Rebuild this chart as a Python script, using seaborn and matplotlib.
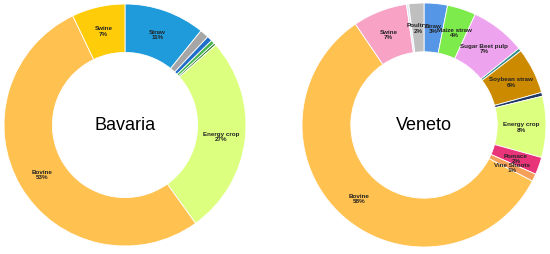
import matplotlib
matplotlib.use('Agg')
import matplotlib.pyplot as plt
import seaborn as sns

# DADOS - participação de cada fonte de biomassa (%), sentido horário a partir do topo
bav_nomes = ['Straw', '', '', '', '', 'Energy crop', 'Bovine', 'Swine']
bav_valores = [10.8, 1.2, 0.7, 0.5, 0.3, 26.6, 52.8, 7.1]
bav_cores = ['#1F9ADB', '#A6A6A6', '#1F6FC9', '#45B649', '#2E7D32', '#DDFF80', '#FFC14F', '#FFCC0A']

ven_nomes = ['Straw', 'Maize straw', 'Sugar Beet pulp', '', 'Soybean straw', '', 'Energy crop',
             'Pomace', 'Vine Shoots', 'Bovine', 'Swine', '', 'Poultry']
ven_valores = [3.1, 3.8, 7.3, 0.4, 6.1, 0.5, 8.1, 2.3, 1.0, 57.9, 7.2, 0.3, 2.0]
ven_cores = ['#5596E6', '#7DEB4B', '#EEA3EE', '#2F8C8C', '#CC8A00', '#1F3864', '#DDFF80',
             '#E8357A', '#F5A05A', '#FFC14F', '#F8A3C6', '#DDEBF7', '#BFBFBF']

sns.set_theme(style='white')
plt.rcParams['font.family'] = ['Liberation Sans', 'DejaVu Sans']

fig = plt.figure(figsize=(5.5, 2.55), dpi=100)
W, H = 550, 255


def donut(cx, cy, r, nomes, valores, cores, titulo):
    ax = fig.add_axes([(cx - r) / W, (H - cy - r) / H, 2 * r / W, 2 * r / H])
    rotulos = [f'{n}\n{round(v)}%' if n else '' for n, v in zip(nomes, valores)]
    wedges, textos = ax.pie(valores, labels=rotulos, colors=cores, startangle=90, counterclock=False,
                            radius=1, labeldistance=0.8,
                            wedgeprops={'width': 0.4, 'edgecolor': 'white', 'linewidth': 0.6},
                            textprops={'fontsize': 4.5, 'fontweight': 'bold', 'color': '#222222'})
    for t in textos:
        t.set_ha('center')
        t.set_va('center')
        t.set_linespacing(1.1)
    ax.text(0, 0, titulo, ha='center', va='center', fontsize=13, color='black')
    ax.set_xlim(-1, 1)
    ax.set_ylim(-1, 1)
    ax.set_aspect('equal')
    ax.axis('off')


donut(125, 126, 121, bav_nomes, bav_valores, bav_cores, 'Bavaria')
donut(424, 126, 122, ven_nomes, ven_valores, ven_cores, 'Veneto')

plt.savefig('out.png', dpi=100)
